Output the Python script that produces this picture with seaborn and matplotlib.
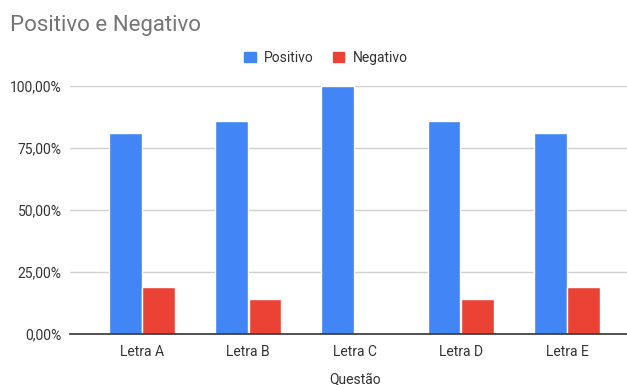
import matplotlib
matplotlib.use("Agg")
import matplotlib.pyplot as plt
import seaborn as sns
import pandas as pd
from matplotlib.patches import Patch

categories = ["Letra A", "Letra B", "Letra C", "Letra D", "Letra E"]
positivo = [0.8095, 0.8571, 1.0, 0.8571, 0.8095]
negativo = [0.1905, 0.1429, 0.0, 0.1429, 0.1905]
series_names = ["Positivo", "Negativo"]
colors = ["#4285F4", "#EA4335"]
yticks = [0, 0.25, 0.5, 0.75, 1.0]
ytick_labels = ["0,00%", "25,00%", "50,00%", "75,00%", "100,00%"]

df = pd.DataFrame({
    "Questão": categories * 2,
    "valor": positivo + negativo,
    "Série": [series_names[0]] * len(categories) + [series_names[1]] * len(categories),
})

sns.set_style("white")
plt.rcParams["font.family"] = ["Roboto", "DejaVu Sans"]

fig = plt.figure(figsize=(6.27, 3.85), dpi=100)
ax = fig.add_axes([70 / 627, 1 - 334 / 385, 1 - 70 / 627, (334 - 86) / 385])

sns.barplot(data=df, x="Questão", y="valor", hue="Série", palette=colors,
            width=0.63, gap=0.02, ax=ax, legend=False, saturation=1)

ax.set_ylim(0, 1.0)
ax.set_xlim(-0.678, 4.565)
ax.set_yticks(yticks)
ax.set_yticklabels(ytick_labels, fontsize=10, color="#333333")
ax.tick_params(axis="x", labelsize=10, colors="#333333", length=0, pad=8)
ax.tick_params(axis="y", length=0, pad=6)
ax.grid(axis="y", color="#d0d0d0", linewidth=1)
ax.set_axisbelow(True)
for s in ["top", "right", "left"]:
    ax.spines[s].set_visible(False)
ax.spines["bottom"].set_color("#333333")
ax.spines["bottom"].set_linewidth(1.2)
ax.set_ylabel("")
ax.set_xlabel("Questão", fontsize=10, color="#333333")
ax.xaxis.set_label_coords(0.5126, -0.155)

fig.text(10 / 627, 1 - 25 / 385, "Positivo e Negativo", fontsize=16,
         color="#757575", va="center", ha="left")

handles = [Patch(facecolor=c, edgecolor=c) for c in colors]
fig.legend(handles, series_names, loc="center", bbox_to_anchor=(0.52, 1 - 58 / 385),
           ncol=2, frameon=False, fontsize=10, handlelength=0.8, handleheight=0.8,
           columnspacing=1.4, handletextpad=0.6, labelcolor="#333333")

fig.savefig("out.png", dpi=100)
